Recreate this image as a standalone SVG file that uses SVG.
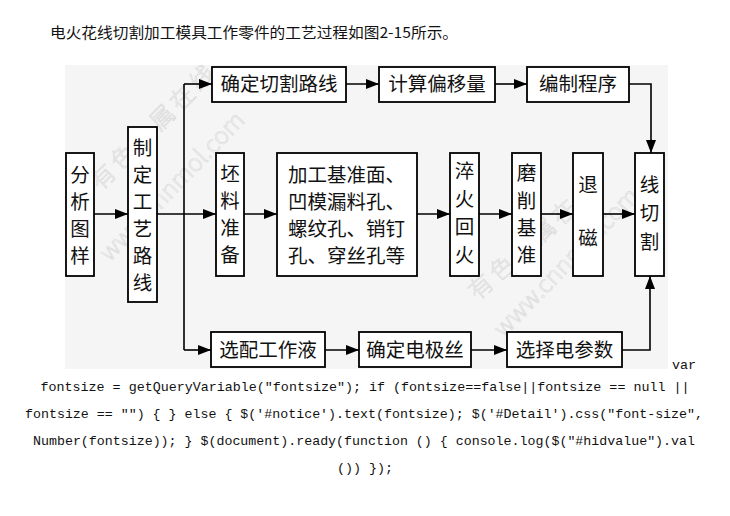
<svg xmlns="http://www.w3.org/2000/svg" width="730" height="516" viewBox="0 0 730 516">
<style>
.box{fill:#ffffff;stroke:#000;stroke-width:1.8}
.t{font-family:"Noto Sans CJK SC","Noto Sans",sans-serif;font-size:19.5px;fill:#111}
.tm{text-anchor:middle}
.ln{fill:none;stroke:#000;stroke-width:1.6}
.code{font-family:"Liberation Mono","DejaVu Sans Mono",monospace;font-size:13.4px;fill:#111}
.title{font-family:"Noto Sans CJK SC","Noto Sans",sans-serif;font-size:15px;fill:#111}
.wm{font-family:"Noto Sans CJK SC","Noto Sans",sans-serif;font-size:24px;font-weight:300;fill:none;stroke:#d9d9d9;stroke-width:0.6}
</style>
<defs>
<marker id="ah" markerUnits="userSpaceOnUse" markerWidth="14" markerHeight="12" refX="13" refY="5" orient="auto">
<path d="M0,0 L13,5 L0,10 z" fill="#000"/>
</marker>
</defs>
<rect width="730" height="516" fill="#fff"/>
<text class="title" x="50" y="38" textLength="408" lengthAdjust="spacingAndGlyphs">电火花线切割加工模具工作零件的工艺过程如图2-15所示。</text>
<rect x="65" y="65" width="603" height="304" fill="#f5f5f5"/>

<g id="watermarks">
<text class="wm" x="160" y="132" text-anchor="middle" transform="rotate(-45 160 132)" letter-spacing="4">有色金属在线</text>
<text class="wm" x="178" y="192" text-anchor="middle" transform="rotate(-46 178 192)">www.cnnmol.com</text>
<text class="wm" x="540" y="245" text-anchor="middle" transform="rotate(-42 540 245)" letter-spacing="4">有色金属在线</text>
<text class="wm" x="572" y="268" text-anchor="middle" transform="rotate(-46 572 268)">www.cnnmol.com</text>
</g>

<g id="connectors">
<line class="ln" x1="94" y1="214" x2="128" y2="214" marker-end="url(#ah)"/>
<line class="ln" x1="157" y1="214" x2="216" y2="214" marker-end="url(#ah)"/>
<line class="ln" x1="184" y1="84" x2="184" y2="350"/>
<line class="ln" x1="184" y1="84" x2="212" y2="84" marker-end="url(#ah)"/>
<line class="ln" x1="184" y1="350" x2="211" y2="350" marker-end="url(#ah)"/>
<line class="ln" x1="346" y1="84" x2="379" y2="84" marker-end="url(#ah)"/>
<line class="ln" x1="495" y1="84" x2="527" y2="84" marker-end="url(#ah)"/>
<polyline class="ln" points="629,84 651,84 651,153" marker-end="url(#ah)"/>
<line class="ln" x1="244" y1="214" x2="277" y2="214" marker-end="url(#ah)"/>
<line class="ln" x1="417" y1="214" x2="450" y2="214" marker-end="url(#ah)"/>
<line class="ln" x1="479" y1="214" x2="512" y2="214" marker-end="url(#ah)"/>
<line class="ln" x1="541" y1="214" x2="573" y2="214" marker-end="url(#ah)"/>
<line class="ln" x1="603" y1="214" x2="635" y2="214" marker-end="url(#ah)"/>
<line class="ln" x1="325" y1="350" x2="359" y2="350" marker-end="url(#ah)"/>
<line class="ln" x1="471" y1="350" x2="507" y2="350" marker-end="url(#ah)"/>
<polyline class="ln" points="622,350 650,350 650,276" marker-end="url(#ah)"/>
</g>

<g id="n-fenxi">
<rect class="box" x="66" y="153" width="28" height="123"/>
<text class="t tm" x="80" y="182">分</text>
<text class="t tm" x="80" y="209">析</text>
<text class="t tm" x="80" y="236">图</text>
<text class="t tm" x="80" y="263">样</text>
</g>
<g id="n-zhiding">
<rect class="box" x="128" y="127" width="29" height="175"/>
<text class="t tm" x="142.5" y="155">制</text>
<text class="t tm" x="142.5" y="182">定</text>
<text class="t tm" x="142.5" y="209">工</text>
<text class="t tm" x="142.5" y="236">艺</text>
<text class="t tm" x="142.5" y="263">路</text>
<text class="t tm" x="142.5" y="290">线</text>
</g>
<g id="n-qiege">
<rect class="box" x="212" y="67" width="134" height="35"/>
<text class="t tm" x="279" y="91">确定切割路线</text>
</g>
<g id="n-jisuan">
<rect class="box" x="379" y="67" width="116" height="35"/>
<text class="t tm" x="437" y="91">计算偏移量</text>
</g>
<g id="n-bianzhi">
<rect class="box" x="527" y="67" width="102" height="35"/>
<text class="t tm" x="578" y="91">编制程序</text>
</g>
<g id="n-piliao">
<rect class="box" x="216" y="153" width="28" height="123"/>
<text class="t tm" x="230" y="181">坯</text>
<text class="t tm" x="230" y="208">料</text>
<text class="t tm" x="230" y="235">准</text>
<text class="t tm" x="230" y="262">备</text>
</g>
<g id="n-jiagong">
<rect class="box" x="277" y="153" width="140" height="123"/>
<text class="t" x="288" y="182">加工基准面、</text>
<text class="t" x="288" y="209">凹模漏料孔、</text>
<text class="t" x="288" y="236">螺纹孔、销钉</text>
<text class="t" x="288" y="263">孔、穿丝孔等</text>
</g>
<g id="n-cuihuo">
<rect class="box" x="450" y="153" width="29" height="123"/>
<text class="t tm" x="464.5" y="178">淬</text>
<text class="t tm" x="464.5" y="206">火</text>
<text class="t tm" x="464.5" y="234">回</text>
<text class="t tm" x="464.5" y="262">火</text>
</g>
<g id="n-moxue">
<rect class="box" x="512" y="153" width="29" height="123"/>
<text class="t tm" x="526.5" y="180">磨</text>
<text class="t tm" x="526.5" y="208">削</text>
<text class="t tm" x="526.5" y="235">基</text>
<text class="t tm" x="526.5" y="262">准</text>
</g>
<g id="n-tuici">
<rect class="box" x="573" y="153" width="30" height="123"/>
<text class="t tm" x="588" y="192">退</text>
<text class="t tm" x="588" y="245">磁</text>
</g>
<g id="n-xianqiege">
<rect class="box" x="635" y="153" width="29" height="123"/>
<text class="t tm" x="649.5" y="192">线</text>
<text class="t tm" x="649.5" y="220">切</text>
<text class="t tm" x="649.5" y="249">割</text>
</g>
<g id="n-xuanpei">
<rect class="box" x="211" y="332" width="114" height="35"/>
<text class="t tm" x="268" y="357">选配工作液</text>
</g>
<g id="n-dianjisi">
<rect class="box" x="359" y="332" width="112" height="35"/>
<text class="t tm" x="415" y="357">确定电极丝</text>
</g>
<g id="n-diancanshu">
<rect class="box" x="507" y="332" width="115" height="35"/>
<text class="t tm" x="564.5" y="357">选择电参数</text>
</g>

<g id="code">
<text class="code" x="672" y="369">var</text>
<text class="code" x="365" y="391" text-anchor="middle" textLength="649" lengthAdjust="spacingAndGlyphs">fontsize = getQueryVariable("fontsize"); if (fontsize==false||fontsize == null ||</text>
<text class="code" x="364" y="418" text-anchor="middle" textLength="678" lengthAdjust="spacingAndGlyphs">fontsize == "") { } else { $('#notice').text(fontsize); $('#Detail').css("font-size",</text>
<text class="code" x="364" y="445" text-anchor="middle" textLength="662" lengthAdjust="spacingAndGlyphs">Number(fontsize)); } $(document).ready(function () { console.log($("#hidvalue").val</text>
<text class="code" x="365" y="472" text-anchor="middle">()) });</text>
</g>
</svg>
